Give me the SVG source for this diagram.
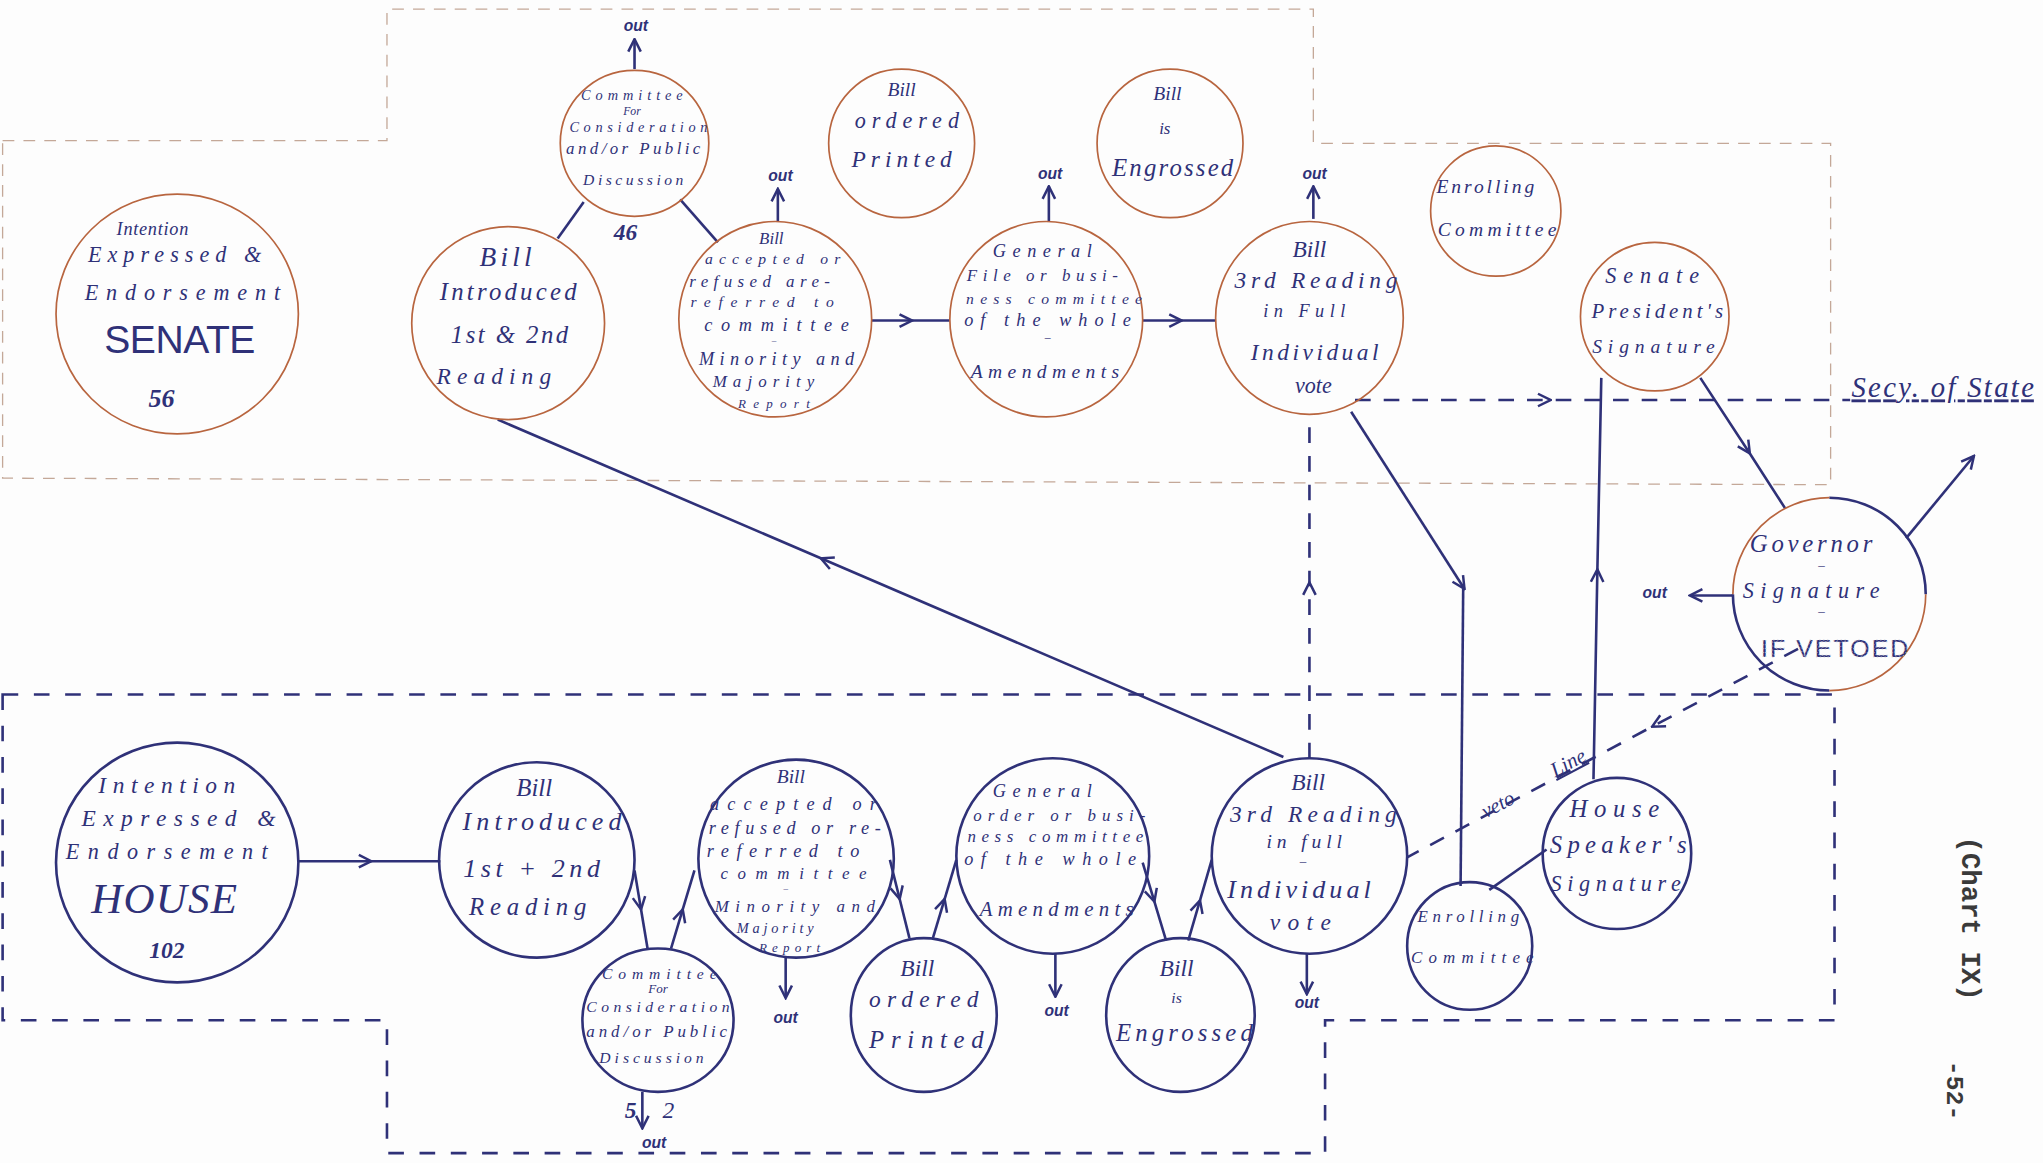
<svg xmlns="http://www.w3.org/2000/svg" width="2043" height="1163" viewBox="0 0 2043 1163">
<defs>
<style>
.sn{fill:none;stroke:#b8653f;stroke-width:1.3}
.hn{fill:none;stroke:#2f3178;stroke-width:2}
.t{font-family:"Liberation Serif",serif;font-style:italic;fill:#2f3178;text-anchor:middle}
.s{font-family:"Liberation Sans",sans-serif;fill:#2f3178;text-anchor:middle}
.o{font-family:"Liberation Sans",sans-serif;font-style:italic;font-weight:bold;fill:#2f3178;text-anchor:middle;font-size:12px}
.c{fill:none;stroke:#2f3178;stroke-width:2}
.dd{fill:none;stroke:#2f3178;stroke-width:2;stroke-dasharray:12 10}
.sr{fill:none;stroke:#c4a898;stroke-width:1;stroke-dasharray:9 7}
.hr{fill:none;stroke:#2f3178;stroke-width:2;stroke-dasharray:12 12}
.m{font-family:"Liberation Mono",monospace;font-weight:bold;fill:#3a3a3a;text-anchor:middle}
</style>
<marker id="a" viewBox="0 0 10 10" refX="9" refY="5" markerWidth="12" markerHeight="12" markerUnits="userSpaceOnUse" orient="auto">
<path d="M1,1 L9,5 L1,9" fill="none" stroke="#2f3178" stroke-width="1.6"/>
</marker>
</defs>
<rect width="2043" height="1163" fill="#fdfdfd"/>
<g transform="scale(1.30293)">
<g id="regions">
<path class="sr" d="M2,108 L297,108 L297,7 L1008,7 L1008,110 L1405,110 L1405,372 L2,367 Z"/>
<path class="hr" d="M2,533 L1408,533 L1408,783 L1017,783 L1017,885 L297,885 L297,783 L2,783 Z"/>
</g>
<g id="connectors">
<path class="c" d="M487,53 L487,30" marker-end="url(#a)"/>
<path class="c" stroke-width="2.5" d="M448,155 L428,183"/>
<path class="c" stroke-width="2.5" d="M522,153 L551,186"/>
<path class="c" d="M597,170 L597,145" marker-end="url(#a)"/>
<path class="c" d="M669,246 L700,246 L729,246" marker-mid="url(#a)"/>
<path class="c" d="M805,170 L805,143" marker-end="url(#a)"/>
<path class="c" stroke-width="3" d="M877,246 L907,246 L933,246" marker-mid="url(#a)"/>
<path class="c" d="M1008,168 L1008,143" marker-end="url(#a)"/>
<path class="c" stroke-width="1.6" d="M985,581 L630,428.5 L382,322" marker-mid="url(#a)"/>
<path class="c" d="M1037,316 L1124,452" marker-end="url(#a)"/>
<path class="c" d="M1123,452 L1121,680"/>
<path class="c" d="M1223,598 L1226,437 L1229,290" marker-mid="url(#a)"/>
<path class="c" d="M1305,290 L1343,348 L1370,390" marker-mid="url(#a)"/>
<path class="c" stroke-width="2.5" d="M1463,413 L1515,350" marker-end="url(#a)"/>
<path class="c" stroke-width="2.5" d="M1330,457 L1297,457" marker-end="url(#a)"/>
<path class="dd" d="M1380,498 L1268,557.7 L1080,658" marker-mid="url(#a)"/>
<path class="dd" d="M1040,307 L1190,307 L1420,307" marker-mid="url(#a)"/>
<path class="dd" d="M1005,582 L1005,447 L1005,318" marker-mid="url(#a)"/>
<path class="c" stroke-width="3" d="M229,661 L285,661 L338,661" marker-mid="url(#a)"/>
<path class="c" d="M487,668 L492,698 L497,728" marker-mid="url(#a)"/>
<path class="c" d="M515,728 L524,698 L533,668" marker-mid="url(#a)"/>
<path class="c" d="M493,838 L493,866" marker-end="url(#a)"/>
<path class="c" d="M603,735 L603,766" marker-end="url(#a)"/>
<path class="c" d="M683,660 L690.5,690 L698,720" marker-mid="url(#a)"/>
<path class="c" d="M716,720 L725,690 L734,660" marker-mid="url(#a)"/>
<path class="c" d="M810,732 L810,765" marker-end="url(#a)"/>
<path class="c" d="M877,662 L886,692 L895,722" marker-mid="url(#a)"/>
<path class="c" d="M912,722 L921,691 L930,660" marker-mid="url(#a)"/>
<path class="c" d="M1003,732 L1003,763" marker-end="url(#a)"/>
<path class="c" d="M1143,683 L1187,652"/>
</g>
<g id="senate">
<ellipse class="sn" cx="136" cy="241" rx="93" ry="92"/>
<text class="t" x="117" y="180" font-size="14" textLength="55" lengthAdjust="spacing">Intention</text>
<text class="t" x="134" y="201" font-size="17" textLength="133" lengthAdjust="spacing">Expressed &amp;</text>
<text class="t" x="140" y="230" font-size="17" textLength="150" lengthAdjust="spacing">Endorsement</text>
<text class="s" x="138" y="271" font-size="30" textLength="116" lengthAdjust="spacing">SENATE</text>
<text class="t" x="124" y="312" font-size="20" font-weight="bold">56</text>
</g>
<g id="s-committee">
<ellipse class="sn" cx="487" cy="110" rx="57" ry="56"/>
<text class="t" x="485" y="77" font-size="11" textLength="78" lengthAdjust="spacing">Committee</text>
<text class="t" x="485" y="88" font-size="9">For</text>
<text class="t" x="490" y="101" font-size="11" textLength="106" lengthAdjust="spacing">Consideration</text>
<text class="t" x="486" y="118" font-size="13" textLength="103" lengthAdjust="spacing">and/or Public</text>
<text class="t" x="486" y="142" font-size="12" textLength="77" lengthAdjust="spacing">Discussion</text>
<text class="t" x="480" y="184" font-size="18" font-weight="bold">46</text>
<text class="o" x="488" y="24">out</text>
</g>
<g id="s-introduced">
<ellipse class="sn" cx="390" cy="248" rx="74" ry="74"/>
<text class="t" x="388" y="204" font-size="21" textLength="40" lengthAdjust="spacing">Bill</text>
<text class="t" x="390" y="230" font-size="19" textLength="105" lengthAdjust="spacing">Introduced</text>
<text class="t" x="391" y="263" font-size="19" textLength="90" lengthAdjust="spacing">1st &amp; 2nd</text>
<text class="t" x="379" y="295" font-size="18" textLength="88" lengthAdjust="spacing">Reading</text>
</g>
<g id="s-accepted">
<ellipse class="sn" cx="595" cy="245" rx="74" ry="75"/>
<text class="t" x="592" y="187" font-size="13">Bill</text>
<text class="t" x="593" y="203" font-size="12" textLength="104" lengthAdjust="spacing">accepted or</text>
<text class="t" x="583" y="220" font-size="13" textLength="108" lengthAdjust="spacing">refused are-</text>
<text class="t" x="585" y="236" font-size="12" textLength="110" lengthAdjust="spacing">referred to</text>
<text class="t" x="596" y="254" font-size="14" textLength="111" lengthAdjust="spacing">committee</text>
<text class="t" x="594" y="263" font-size="7">–</text>
<text class="t" x="596" y="280" font-size="14" textLength="119" lengthAdjust="spacing">Minority and</text>
<text class="t" x="586" y="297" font-size="13" textLength="78" lengthAdjust="spacing">Majority</text>
<text class="t" x="594" y="313" font-size="10" textLength="55" lengthAdjust="spacing">Report</text>
<text class="o" x="599" y="139">out</text>
</g>
<g id="s-printed">
<ellipse class="sn" cx="692" cy="110" rx="56" ry="57"/>
<text class="t" x="692" y="74" font-size="15">Bill</text>
<text class="t" x="696" y="98" font-size="17" textLength="80" lengthAdjust="spacing">ordered</text>
<text class="t" x="692" y="128" font-size="18" textLength="77" lengthAdjust="spacing">Printed</text>
</g>
<g id="s-general">
<ellipse class="sn" cx="803" cy="245" rx="74" ry="75"/>
<text class="t" x="800" y="197" font-size="14" textLength="76" lengthAdjust="spacing">General</text>
<text class="t" x="800" y="216" font-size="13" textLength="116" lengthAdjust="spacing">File or busi-</text>
<text class="t" x="809" y="233" font-size="12" textLength="135" lengthAdjust="spacing">ness committee</text>
<text class="t" x="804" y="250" font-size="14" textLength="128" lengthAdjust="spacing">of the whole</text>
<text class="t" x="804" y="262" font-size="9">–</text>
<text class="t" x="802" y="290" font-size="15" textLength="114" lengthAdjust="spacing">Amendments</text>
<text class="o" x="806" y="137">out</text>
</g>
<g id="s-engrossed">
<ellipse class="sn" cx="898" cy="110" rx="56" ry="57"/>
<text class="t" x="896" y="77" font-size="15">Bill</text>
<text class="t" x="894" y="103" font-size="13">is</text>
<text class="t" x="900" y="135" font-size="19" textLength="93" lengthAdjust="spacing">Engrossed</text>
</g>
<g id="s-third">
<ellipse class="sn" cx="1005" cy="244" rx="72" ry="74"/>
<text class="t" x="1005" y="197" font-size="18">Bill</text>
<text class="t" x="1010" y="221" font-size="18" textLength="125" lengthAdjust="spacing">3rd Reading</text>
<text class="t" x="1001" y="243" font-size="14" textLength="63" lengthAdjust="spacing">in Full</text>
<text class="t" x="1009" y="276" font-size="18" textLength="98" lengthAdjust="spacing">Individual</text>
<text class="t" x="1008" y="302" font-size="17">vote</text>
<text class="o" x="1009" y="137">out</text>
</g>
<g id="s-enrolling">
<ellipse class="sn" cx="1148" cy="162" rx="50" ry="50"/>
<text class="t" x="1140" y="148" font-size="15" textLength="75" lengthAdjust="spacing">Enrolling</text>
<text class="t" x="1149" y="181" font-size="15" textLength="91" lengthAdjust="spacing">Committee</text>
</g>
<g id="s-president">
<ellipse class="sn" cx="1270" cy="243" rx="57" ry="57"/>
<text class="t" x="1268" y="217" font-size="17" textLength="72" lengthAdjust="spacing">Senate</text>
<text class="t" x="1272" y="244" font-size="16" textLength="101" lengthAdjust="spacing">President's</text>
<text class="t" x="1269" y="271" font-size="15" textLength="94" lengthAdjust="spacing">Signature</text>
</g>
<g id="governor">
<path class="hn" d="M1404,382 A74,74 0 0 1 1478,456"/>
<path class="hn" d="M1404,530 A74,74 0 0 1 1330,456"/>
<path class="sn" stroke-width="1.6" d="M1330,456 A74,74 0 0 1 1404,382"/>
<path class="sn" stroke-width="1.6" d="M1478,456 A74,74 0 0 1 1404,530"/>
<text class="t" x="1390" y="424" font-size="19" textLength="94" lengthAdjust="spacing">Governor</text>
<text class="t" x="1398" y="437" font-size="10">–</text>
<text class="t" x="1390" y="459" font-size="17" textLength="105" lengthAdjust="spacing">Signature</text>
<text class="t" x="1398" y="472" font-size="10">–</text>
<text class="s" x="1408" y="504" font-size="19" textLength="113" lengthAdjust="spacing" fill="none" stroke="#c3c5d2" stroke-width="0.8" stroke-dasharray="0.8 2.2">IF VETOED</text>
<text class="o" x="1270" y="459" font-size="13">out</text>
</g>
<g id="house">
<ellipse class="hn" cx="136" cy="662" rx="93" ry="92"/>
<text class="t" x="128" y="609" font-size="18" textLength="105" lengthAdjust="spacing">Intention</text>
<text class="t" x="137" y="634" font-size="18" textLength="149" lengthAdjust="spacing">Expressed &amp;</text>
<text class="t" x="128" y="659" font-size="17" textLength="155" lengthAdjust="spacing">Endorsement</text>
<text class="t" x="126" y="701" font-size="33" textLength="112" lengthAdjust="spacing">HOUSE</text>
<text class="t" x="128" y="735" font-size="18" font-weight="bold">102</text>
</g>
<g id="h-introduced">
<ellipse class="hn" cx="412" cy="660" rx="75" ry="75"/>
<text class="t" x="410" y="611" font-size="19">Bill</text>
<text class="t" x="416" y="637" font-size="20" textLength="122" lengthAdjust="spacing">Introduced</text>
<text class="t" x="408" y="673" font-size="20" textLength="105" lengthAdjust="spacing">1st + 2nd</text>
<text class="t" x="405" y="702" font-size="19" textLength="90" lengthAdjust="spacing">Reading</text>
</g>
<g id="h-committee">
<ellipse class="hn" cx="505" cy="783" rx="58" ry="55"/>
<text class="t" x="506" y="751" font-size="12" textLength="88" lengthAdjust="spacing">Committee</text>
<text class="t" x="505" y="762" font-size="10">For</text>
<text class="t" x="505" y="777" font-size="12" textLength="110" lengthAdjust="spacing">Consideration</text>
<text class="t" x="504" y="796" font-size="13" textLength="108" lengthAdjust="spacing">and/or Public</text>
<text class="t" x="500" y="816" font-size="12" textLength="80" lengthAdjust="spacing">Discussion</text>
<text class="t" x="484" y="858" font-size="18" font-weight="bold">5</text>
<text class="t" x="513" y="858" font-size="18">2</text>
<text class="o" x="502" y="881">out</text>
</g>
<g id="h-accepted">
<ellipse class="hn" cx="611" cy="659" rx="75" ry="76"/>
<text class="t" x="607" y="601" font-size="15">Bill</text>
<text class="t" x="609" y="622" font-size="14" textLength="128" lengthAdjust="spacing">accepted or</text>
<text class="t" x="610" y="640" font-size="14" textLength="132" lengthAdjust="spacing">refused or re-</text>
<text class="t" x="601" y="658" font-size="14" textLength="117" lengthAdjust="spacing">referred to</text>
<text class="t" x="609" y="675" font-size="13" textLength="112" lengthAdjust="spacing">committee</text>
<text class="t" x="603" y="684" font-size="7">–</text>
<text class="t" x="610" y="700" font-size="13" textLength="123" lengthAdjust="spacing">Minority and</text>
<text class="t" x="595" y="716" font-size="11" textLength="59" lengthAdjust="spacing">Majority</text>
<text class="t" x="606" y="731" font-size="10" textLength="47" lengthAdjust="spacing">Report</text>
<text class="o" x="603" y="785">out</text>
</g>
<g id="h-printed">
<ellipse class="hn" cx="709" cy="779" rx="56" ry="59"/>
<text class="t" x="704" y="749" font-size="18">Bill</text>
<text class="t" x="709" y="773" font-size="18" textLength="84" lengthAdjust="spacing">ordered</text>
<text class="t" x="711" y="804" font-size="19" textLength="88" lengthAdjust="spacing">Printed</text>
</g>
<g id="h-general">
<ellipse class="hn" cx="808" cy="657" rx="74" ry="75"/>
<text class="t" x="800" y="612" font-size="14" textLength="76" lengthAdjust="spacing">General</text>
<text class="t" x="813" y="630" font-size="13" textLength="132" lengthAdjust="spacing">order or busi-</text>
<text class="t" x="810" y="646" font-size="13" textLength="135" lengthAdjust="spacing">ness committee</text>
<text class="t" x="806" y="664" font-size="14" textLength="132" lengthAdjust="spacing">of the whole</text>
<text class="t" x="811" y="703" font-size="16" textLength="118" lengthAdjust="spacing">Amendments</text>
<text class="o" x="811" y="780">out</text>
</g>
<g id="h-engrossed">
<ellipse class="hn" cx="906" cy="779" rx="57" ry="59"/>
<text class="t" x="903" y="749" font-size="18">Bill</text>
<text class="t" x="903" y="770" font-size="12">is</text>
<text class="t" x="909" y="799" font-size="19" textLength="105" lengthAdjust="spacing">Engrossed</text>
</g>
<g id="h-third">
<ellipse class="hn" cx="1005" cy="657" rx="75" ry="75"/>
<text class="t" x="1004" y="606" font-size="18">Bill</text>
<text class="t" x="1008" y="631" font-size="18" textLength="128" lengthAdjust="spacing">3rd Reading</text>
<text class="t" x="1001" y="651" font-size="15" textLength="58" lengthAdjust="spacing">in full</text>
<text class="t" x="1000" y="664" font-size="10">–</text>
<text class="t" x="997" y="689" font-size="20" textLength="110" lengthAdjust="spacing">Individual</text>
<text class="t" x="998" y="714" font-size="18" textLength="47" lengthAdjust="spacing">vote</text>
<text class="o" x="1003" y="774">out</text>
</g>
<g id="h-enrolling">
<ellipse class="hn" cx="1128" cy="726" rx="48" ry="49"/>
<text class="t" x="1127" y="708" font-size="13" textLength="78" lengthAdjust="spacing">Enrolling</text>
<text class="t" x="1130" y="739" font-size="13" textLength="94" lengthAdjust="spacing">Committee</text>
</g>
<g id="h-speaker">
<ellipse class="hn" cx="1241" cy="655" rx="57" ry="58"/>
<text class="t" x="1239" y="627" font-size="19" textLength="69" lengthAdjust="spacing">House</text>
<text class="t" x="1242" y="655" font-size="19" textLength="105" lengthAdjust="spacing">Speaker's</text>
<text class="t" x="1240" y="684" font-size="17" textLength="100" lengthAdjust="spacing">Signature</text>
</g>
<g id="labels">
<text class="t" font-size="16" transform="translate(1152,622) rotate(-28)">veto</text>
<text class="t" font-size="16" text-decoration="underline" transform="translate(1206,590) rotate(-28)">Line</text>
<text class="t" x="1491" y="305" font-size="22" textLength="140" lengthAdjust="spacing" text-decoration="underline">Secy. of State</text>
<text class="m" font-size="21" transform="translate(1506,705) rotate(90)">(Chart IX)</text>
<text class="m" font-size="19" transform="translate(1494,837) rotate(90)">-52-</text>
</g>
</g>
</svg>
